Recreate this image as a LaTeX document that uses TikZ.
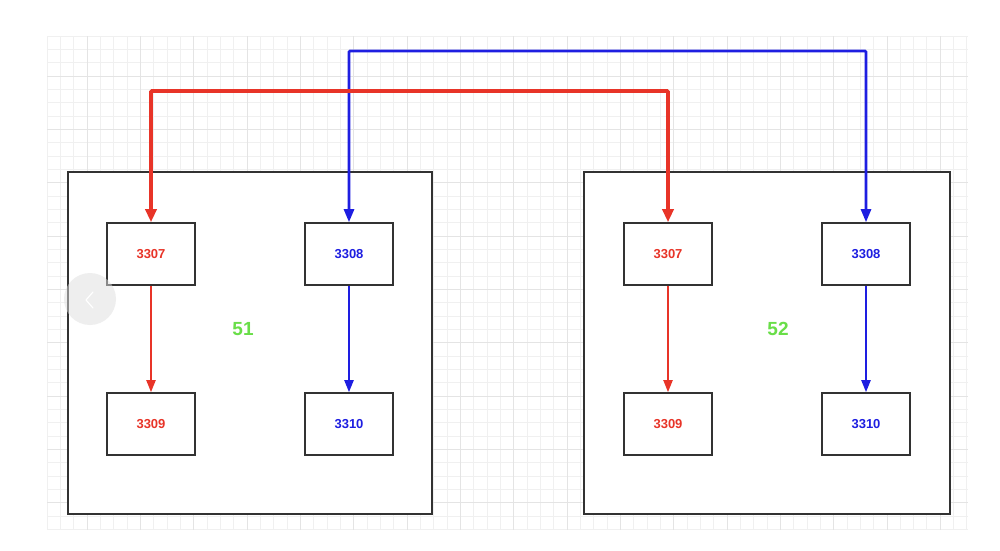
\documentclass[tikz,border=0pt]{standalone}
\usepackage{fontspec}
\setmainfont{Liberation Sans}
\usetikzlibrary{arrows.meta}
\definecolor{cred}{RGB}{232,52,40}
\definecolor{cblue}{RGB}{30,30,225}
\definecolor{cgreen}{RGB}{105,222,72}
\definecolor{cbox}{RGB}{50,50,50}
\definecolor{gridminor}{RGB}{240,240,240}
\definecolor{gridmajor}{RGB}{228,228,228}
\tikzset{
  bigbox/.style={draw=cbox, line width=1.4pt, fill=white, minimum width=364pt, minimum height=342pt, inner sep=0pt},
  smallbox/.style={draw=cbox, line width=1.6pt, fill=white, minimum width=88pt, minimum height=62pt, inner sep=0pt, font=\fontsize{13}{15}\selectfont\bfseries},
  grouplabel/.style={text=cgreen, font=\fontsize{19}{21}\selectfont\bfseries},
  redlink/.style={draw=cred, line width=3.6pt, {Triangle[length=13pt,width=11pt]}-{Triangle[length=13pt,width=11pt]}},
  bluelink/.style={draw=cblue, line width=2.6pt, {Triangle[length=13pt,width=10pt]}-{Triangle[length=13pt,width=10pt]}},
  redinner/.style={draw=cred, line width=1.9pt, -{Triangle[length=12pt,width=9pt]}},
  blueinner/.style={draw=cblue, line width=2.1pt, -{Triangle[length=12pt,width=9pt]}}
}
\begin{document}
\begin{tikzpicture}[x=1pt,y=-1pt]
\useasboundingbox (0,0) rectangle (1000,550);
\fill[white] (0,0) rectangle (1000,550);
% grid
\foreach \i in {0,...,69} {\draw[gridminor, line width=0.6pt] (47+\i*13.33,36) -- (47+\i*13.33,530);}
\foreach \j in {0,...,37} {\draw[gridminor, line width=0.6pt] (47,36+\j*13.33) -- (968,36+\j*13.33);}
\foreach \i in {0,...,16} {\draw[gridmajor, line width=0.8pt] (87+\i*53.33,36) -- (87+\i*53.33,530);}
\foreach \j in {0,...,8} {\draw[gridmajor, line width=0.8pt] (47,76+\j*53.33) -- (968,76+\j*53.33);}
% group boxes
\node[bigbox] (g51) at (250,343) {};
\node[bigbox, minimum width=366pt] (g52) at (767,343) {};
\node[grouplabel] (l51) at (243,329) {51};
\node[grouplabel] (l52) at (778,329) {52};
% small boxes
\node[smallbox, text=cred] (a3307) at (151,254) {3307};
\node[smallbox, text=cblue] (a3308) at (349,254) {3308};
\node[smallbox, text=cred] (a3309) at (151,424) {3309};
\node[smallbox, text=cblue] (a3310) at (349,424) {3310};
\node[smallbox, text=cred] (b3307) at (668,254) {3307};
\node[smallbox, text=cblue] (b3308) at (866,254) {3308};
\node[smallbox, text=cred] (b3309) at (668,424) {3309};
\node[smallbox, text=cblue] (b3310) at (866,424) {3310};
% inner arrows
\draw[redinner] (a3307.south) -- (a3309.north);
\draw[blueinner] (a3308.south) -- (a3310.north);
\draw[redinner] (b3307.south) -- (b3309.north);
\draw[blueinner] (b3308.south) -- (b3310.north);
% cross links
\coordinate (redtop) at (0,91);
\coordinate (bluetop) at (0,51);
\draw[bluelink, rounded corners=1pt] (a3308.north) -- (a3308.north |- bluetop) -| (b3308.north);
\draw[redlink, rounded corners=1pt] (a3307.north) -- (a3307.north |- redtop) -| (b3307.north);
% overlay carousel button
\fill[gray!25, opacity=0.5] (90,299) circle (26pt);
\draw[white, line width=1.2pt, line cap=round, line join=round] (93,292) -- (86,300) -- (93,308);
\end{tikzpicture}
\end{document}
